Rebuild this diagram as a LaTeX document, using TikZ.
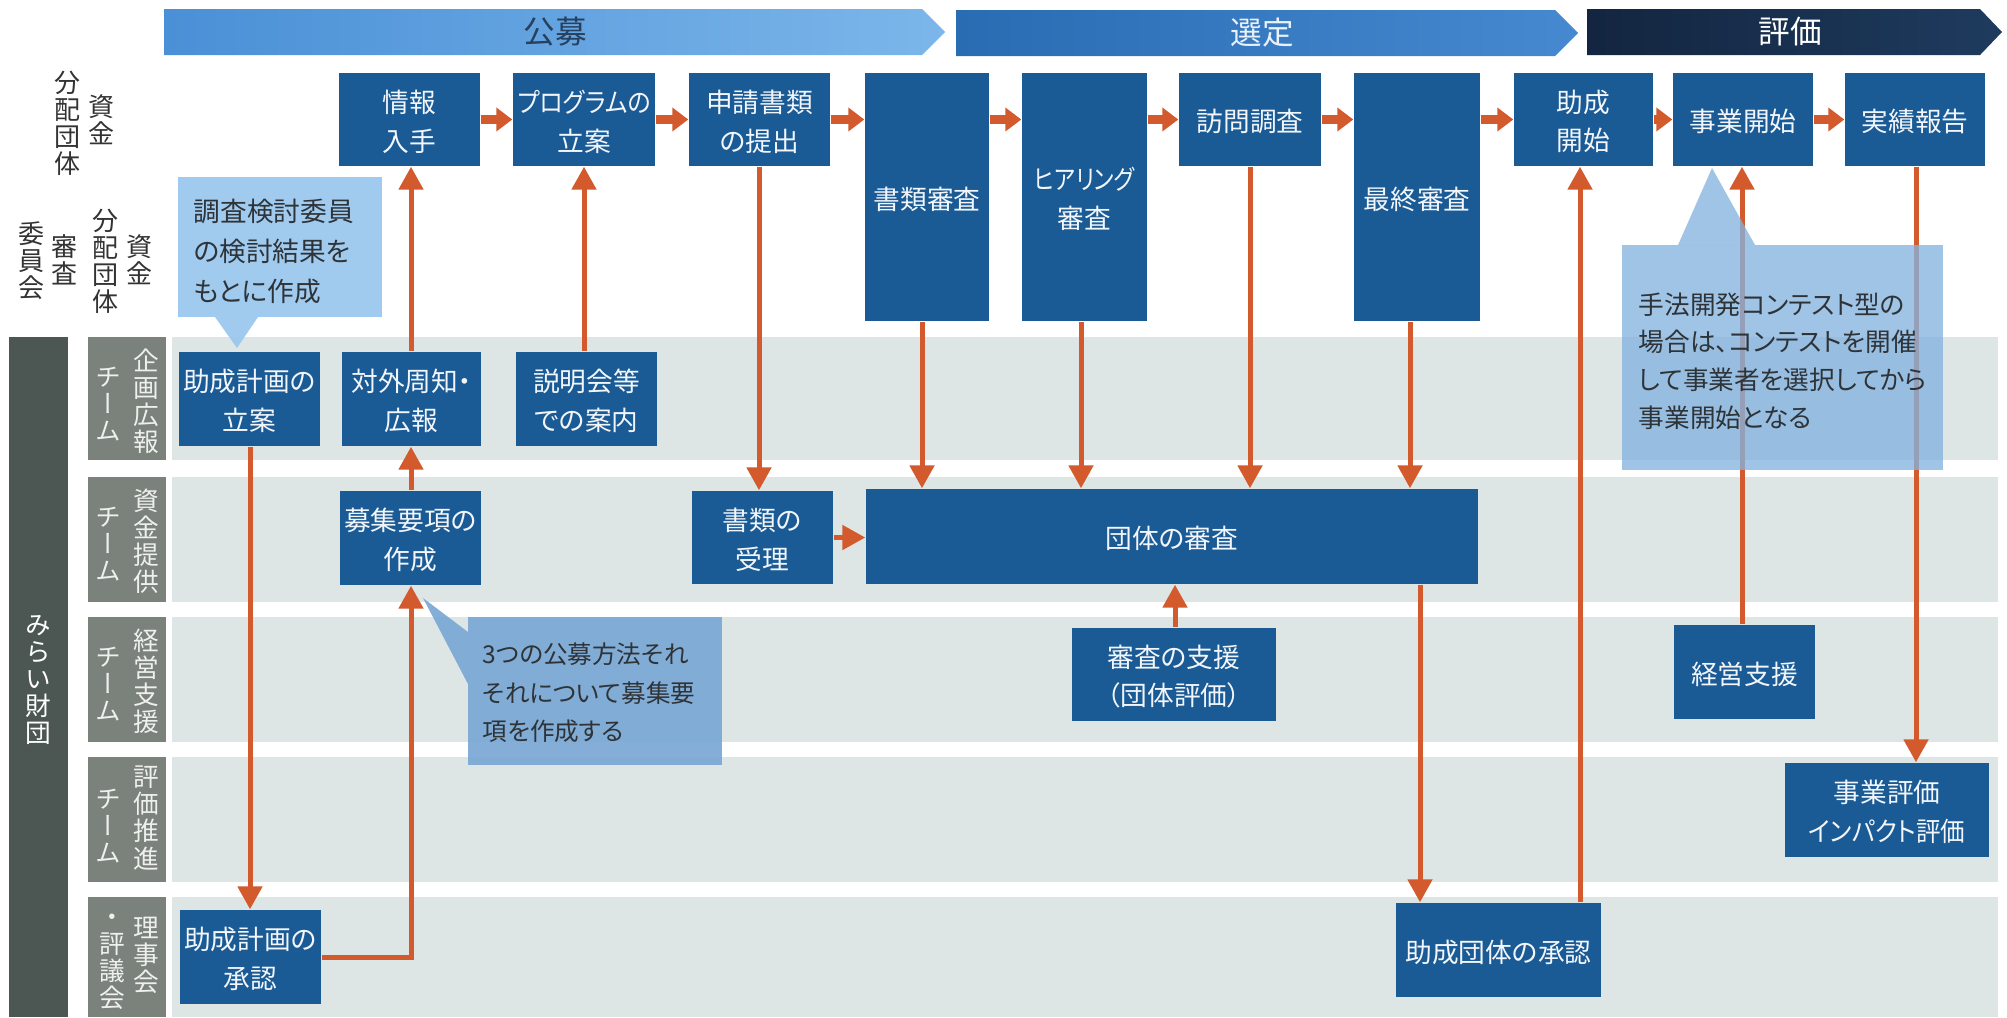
\documentclass[tikz,border=0pt]{standalone}
\usepackage{fontspec}
\setmainfont{Noto Sans CJK JP}[RawFeature=+palt]
\newfontfamily\jpv{Noto Sans CJK JP}[RawFeature=+vert]
\usetikzlibrary{arrows.meta,fit}

\definecolor{boxblue}{HTML}{1A5A95}
\definecolor{boxtext}{HTML}{F2F6FA}
\definecolor{arrowred}{HTML}{D35A2D}
\definecolor{bandbg}{HTML}{DEE5E5}
\definecolor{teamgray}{HTML}{7B817B}
\definecolor{teamtext}{HTML}{EEF0EE}
\definecolor{darkbar}{HTML}{4C5652}
\definecolor{labeltext}{HTML}{333333}
\definecolor{calltext}{HTML}{2E3338}
\definecolor{callA}{HTML}{96C6EE}
\definecolor{callB}{HTML}{77A6D4}
\definecolor{callC}{HTML}{84B4E0}
\definecolor{kouboL}{HTML}{4A90D6}
\definecolor{kouboR}{HTML}{7CB6EA}
\definecolor{kouboT}{HTML}{26405E}
\definecolor{senteiL}{HTML}{2A6CB2}
\definecolor{senteiR}{HTML}{4689D0}
\definecolor{senteiT}{HTML}{E8F0FA}
\definecolor{hyokaL}{HTML}{132540}
\definecolor{hyokaR}{HTML}{1E3B5E}

\tikzset{
  box/.style={fill=boxblue, inner sep=0pt},
  btxt/.style={text=boxtext, inner sep=0pt, align=center,
    font=\fontsize{7.6}{11}\selectfont},
  teambox/.style={fill=teamgray, inner sep=0pt},
  vlab/.style={inner sep=0pt, align=center, text=labeltext,
    font=\jpv\fontsize{7.4}{7.7}\selectfont},
  tlab/.style={inner sep=0pt, align=center, text=teamtext,
    font=\jpv\fontsize{7.3}{7.7}\selectfont},
  arr/.style={draw=arrowred, line width=0.5mm, -{Triangle[width=2.4mm,length=2.3mm]}},
  harr/.style={draw=arrowred, line width=0.9mm, -{Triangle[width=2.3mm,length=1.6mm]}},
  calltxt/.style={align=left, inner sep=0pt, text=calltext, anchor=west},
  hdr/.style={font=\fontsize{9}{9}\selectfont, inner sep=0pt},
}
\newcommand\bx[4]{%
  \node[box, fit={#2 #3}] (#1) {};
  \node[btxt] (#1T) at ([yshift=-0.2mm]#1.center) {#4};}
\newcommand\nar[1]{\scalebox{#1}[1]}

\begin{document}
\begin{tikzpicture}[x=0.1mm,y=-0.1mm]
\useasboundingbox (0,0) rectangle (2007,1017);
\fill[white] (0,0) rectangle (2007,1017);

% ---- bands
\foreach \a/\b in {337/460, 477/602, 617/742, 757/882, 897/1017}
  \fill[bandbg] (172,\a) rectangle (1998,\b);

% ---- header bars
\shade[left color=kouboL, right color=kouboR]
  (164,9) -- (922,9) -- (945,32) -- (922,55) -- (164,55) -- cycle;
\shade[left color=senteiL, right color=senteiR]
  (956,10) -- (1555,10) -- (1578,33) -- (1555,56) -- (956,56) -- cycle;
\shade[left color=hyokaL, right color=hyokaR]
  (1587,9) -- (1980,9) -- (2002,32) -- (1980,55) -- (1587,55) -- cycle;
\node[hdr, text=kouboT] (koubo) at (555,32) {公募};
\node[hdr, text=senteiT] (sentei) at (1262,33) {選定};
\node[hdr, text=white] (hyokaH) at (1790,32) {評価};

% ---- left labels
\node[vlab] (lab1a) at (68,123) {分\\配\\団\\体};
\node[vlab] (lab1b) at (102,120) {資\\金};
\node[vlab] (lab2a) at (32,261) {委\\員\\会};
\node[vlab] (lab2b) at (65,260) {審\\査};
\node[vlab] (lab2c) at (106,261) {分\\配\\団\\体};
\node[vlab] (lab2d) at (140,260) {資\\金};

\node[fill=darkbar, inner sep=0pt, fit={(9,337) (68,1017)}] (mirai) {};
\node[tlab, text=white] (miraiT) at (38,680) {み\\ら\\い\\財\\団};

\node[teambox, fit={(88,337) (166,460)}] (t1) {};
\node[teambox, fit={(88,477) (166,602)}] (t2) {};
\node[teambox, fit={(88,617) (166,742)}] (t3) {};
\node[teambox, fit={(88,757) (166,882)}] (t4) {};
\node[teambox, fit={(88,897) (166,1017)}] (t5) {};
\node[tlab] (t1a) at (146,401) {企\\画\\広\\報};
\node[tlab] (t1b) at (108,404) {チ\\ー\\ム};
\node[tlab] (t2a) at (146,541) {資\\金\\提\\供};
\node[tlab] (t2b) at (108,544) {チ\\ー\\ム};
\node[tlab] (t3a) at (146,681) {経\\営\\支\\援};
\node[tlab] (t3b) at (108,684) {チ\\ー\\ム};
\node[tlab] (t4a) at (146,818) {評\\価\\推\\進};
\node[tlab] (t4b) at (108,826) {チ\\ー\\ム};
\node[tlab] (t5a) at (146,955) {理\\事\\会};
\node[tlab] (t5b) at (112,962) {・\\評\\議\\会};

% ---- row 1 boxes
\bx{info}{(339,73)}{(480,166)}{情報\\入手}
\bx{prog}{(513,73)}{(655,166)}{\nar{0.9}{プログラムの}\\立案}
\bx{shinsei}{(689,73)}{(830,166)}{申請書類\\の提出}
\bx{shorui}{(865,73)}{(989,321)}{書類審査}
\bx{hearing}{(1022,73)}{(1147,321)}{\nar{0.85}{ヒアリング}\\審査}
\bx{houmon}{(1179,73)}{(1321,166)}{訪問調査}
\bx{saishu}{(1354,73)}{(1480,321)}{最終審査}
\bx{josei}{(1514,73)}{(1653,166)}{助成\\開始}
\bx{jigyo}{(1673,73)}{(1813,166)}{事業開始}
\bx{jisseki}{(1845,73)}{(1985,166)}{実績報告}

% ---- lower boxes
\bx{ritsuan}{(179,352)}{(320,446)}{助成計画の\\立案}
\bx{taigai}{(342,352)}{(481,446)}{対外周知・\\広報}
\bx{setsumei}{(516,352)}{(657,446)}{説明会等\\での案内}
\bx{boshu}{(340,491)}{(481,585)}{募集要項の\\作成}
\bx{juri}{(692,491)}{(833,584)}{書類の\\受理}
\bx{dantai}{(866,489)}{(1478,584)}{団体の審査}
\bx{shien}{(1072,628)}{(1276,721)}{審査の支援\\（団体評価）}
\bx{keiei}{(1674,625)}{(1815,719)}{経営支援}
\bx{hyoka}{(1785,763)}{(1989,857)}{事業評価\\\nar{0.92}{インパクト評価}}
\bx{shonin}{(180,910)}{(321,1004)}{助成計画の\\承認}
\bx{dshonin}{(1396,903)}{(1601,997)}{助成団体の承認}

% ---- connector x positions
\coordinate (xA) at (411,0);
\coordinate (xB) at (584,0);
\coordinate (xC) at (759,0);
\coordinate (xD) at (922,0);
\coordinate (xE) at (1081,0);
\coordinate (xF) at (1250,0);
\coordinate (xG) at (1410,0);
\coordinate (xH) at (1175,0);
\coordinate (xI) at (1420,0);
\coordinate (xJ) at (1580,0);
\coordinate (xK) at (1742,0);
\coordinate (xL) at (1916,0);
\coordinate (xM) at (250,0);

% ---- horizontal arrows (row 1)
\draw[harr] (info.east) -- (prog.west);
\draw[harr] (prog.east) -- (shinsei.west);
\draw[harr] (shinsei.east) -- (shinsei.east -| shorui.west);
\draw[harr] (shinsei.east -| shorui.east) -- (shinsei.east -| hearing.west);
\draw[harr] (shinsei.east -| hearing.east) -- (houmon.west);
\draw[harr] (houmon.east) -- (houmon.east -| saishu.west);
\draw[harr] (houmon.east -| saishu.east) -- (josei.west);
\draw[harr] (josei.east) -- (jigyo.west);
\draw[harr] (jigyo.east) -- (jisseki.west);

% ---- vertical arrows
\draw[arr] (taigai.north -| xA) -- (info.south -| xA);
\draw[arr] (setsumei.north -| xB) -- (prog.south -| xB);
\draw[arr] (shinsei.south -| xC) -- (juri.north -| xC);
\draw[arr] (shorui.south -| xD) -- (dantai.north -| xD);
\draw[arr] (hearing.south -| xE) -- (dantai.north -| xE);
\draw[arr] (houmon.south -| xF) -- (dantai.north -| xF);
\draw[arr] (saishu.south -| xG) -- (dantai.north -| xG);
\draw[arr] (juri.east) -- (juri.east -| dantai.west);
\draw[arr] (shien.north -| xH) -- (dantai.south -| xH);
\draw[arr] (boshu.north -| xA) -- (taigai.south -| xA);
\draw[arr] (shonin.east) -| (boshu.south -| xA);
\draw[arr] (ritsuan.south -| xM) -- (shonin.north -| xM);
\draw[arr] (dantai.south -| xI) -- (dshonin.north -| xI);
\draw[arr] (dshonin.north -| xJ) -- (josei.south -| xJ);
\draw[arr] (keiei.north -| xK) -- (jigyo.south -| xK);
\draw[arr] (jisseki.south -| xL) -- (hyoka.north -| xL);

% ---- callouts
\fill[callA, fill opacity=0.9] (178,177) rectangle (382,317);
\fill[callA, fill opacity=0.9] (215,317) -- (237,348) -- (258,317) -- cycle;
\node[calltxt, font=\fontsize{7.6}{11.4}\selectfont] (note1) at (193,251)
  {調査検討委員\\の検討結果を\\もとに作成};

\fill[callB, fill opacity=0.9] (468,617) rectangle (722,765);
\fill[callB, fill opacity=0.9] (468,632) -- (423,598) -- (468,684) -- cycle;
\node[calltxt, font=\fontsize{7}{11}\selectfont] (note2) at (482,693)
  {3つの公募方法それ\\それについて募集要\\項を作成する};

\fill[callC, fill opacity=0.78] (1622,245) rectangle (1943,470);
\fill[callC, fill opacity=0.78] (1678,245) -- (1712,168) -- (1755,245) -- cycle;
\node[calltxt, font=\fontsize{7.3}{10.7}\selectfont] (note3) at (1638,361)
  {手法開発コンテスト型の\\場合は、コンテストを開催\\して事業者を選択してから\\事業開始となる};
\end{tikzpicture}
\end{document}
